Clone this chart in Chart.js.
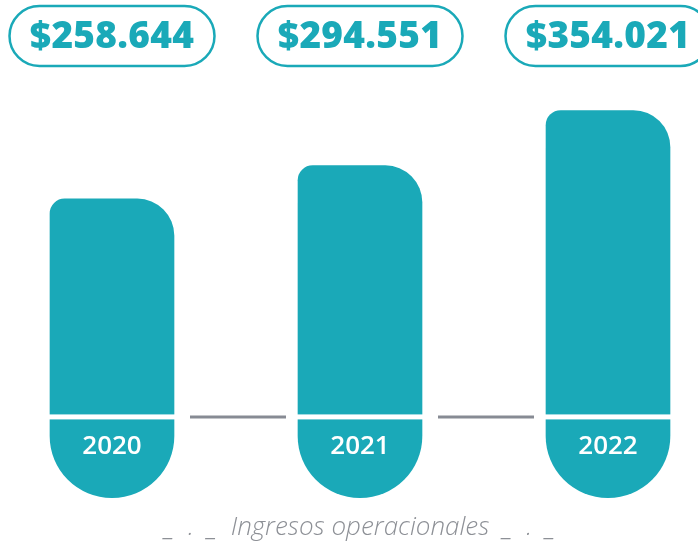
<!DOCTYPE html>
<html>
<head>
<meta charset="utf-8">
<script src="https://cdn.jsdelivr.net/npm/chart.js@4.4.1/dist/chart.umd.min.js"></script>
<style>
  html, body { margin: 0; padding: 0; background: #fff; }
  #wrap { width: 698px; height: 541px; }
</style>
</head>
<body>
<div id="wrap"><canvas id="chart"></canvas></div>
<script>
// Ingresos operacionales (millones)
const years = ['2020', '2021', '2022'];
const ingresos = [258.644, 294.551, 354.021];
const valueLabels = ['$258.644', '$294.551', '$354.021'];
const baseValue = 23.3;    // where the white base line cuts the bars
const footValue = -63.8;   // bottom of the rounded foot under each bar

const TEAL = '#1aa9b8';

// white cut + grey connectors + year labels + value pills
const decorPlugin = {
  id: 'decor',
  afterDatasetsDraw(chart) {
    const ctx = chart.ctx;
    const y = chart.scales.y;
    const bars = chart.getDatasetMeta(0).data;
    const yBase = y.getPixelForValue(baseValue);
    ctx.save();

    ctx.strokeStyle = '#878b94';
    ctx.lineWidth = 3;
    for (let i = 0; i < bars.length - 1; i++) {
      const from = bars[i].x + bars[i].width / 2 + 16;
      const to = bars[i + 1].x - bars[i + 1].width / 2 - 12;
      ctx.beginPath();
      ctx.moveTo(from, yBase);
      ctx.lineTo(to, yBase);
      ctx.stroke();
    }

    bars.forEach((bar, i) => {
      ctx.fillStyle = '#fff';
      ctx.fillRect(bar.x - bar.width / 2 - 1, yBase - 2.5, bar.width + 2, 5);

      ctx.font = '600 26px "Open Sans"';
      ctx.textAlign = 'center';
      ctx.textBaseline = 'middle';
      ctx.fillText(years[i], bar.x, yBase + 30);

      // pill with the value
      const w = 205, h = 60, top = 6;
      ctx.beginPath();
      ctx.roundRect(bar.x - w / 2, top, w, h, h / 2);
      ctx.lineWidth = 2.5;
      ctx.strokeStyle = TEAL;
      ctx.stroke();
      ctx.fillStyle = TEAL;
      ctx.font = '800 37px "Open Sans"';
      ctx.letterSpacing = '0.3px';
      ctx.fillText(valueLabels[i], bar.x, top + h / 2 + 1);
      ctx.letterSpacing = '0px';
    });
    ctx.restore();
  }
};

new Chart(document.getElementById('chart'), {
  type: 'bar',
  data: {
    labels: years,
    datasets: [{
      data: ingresos.map(v => [footValue, v]),
      backgroundColor: TEAL,
      barThickness: 124,
      borderSkipped: false,
      borderRadius: { topLeft: 15, topRight: 37, bottomLeft: 62, bottomRight: 62 },
      clip: false
    }]
  },
  options: {
    responsive: true,
    maintainAspectRatio: false,
    animation: false,
    layout: { padding: { top: 80, left: 112, right: 90, bottom: 0 } },
    scales: {
      x: { display: false, offset: false },
      y: { display: false, min: footValue, max: 387 }
    },
    plugins: {
      legend: { display: false },
      tooltip: { enabled: false },
      title: {
        display: true,
        position: 'bottom',
        fullSize: false,
        text: '_  .  _  Ingresos operacionales  _  .  _',
        color: '#8d9096',
        font: { family: 'Open Sans', size: 26, style: 'italic', weight: 300, lineHeight: 1 },
        padding: { top: 17.4, bottom: 0 }
      }
    }
  },
  plugins: [decorPlugin]
});
</script>
</body>
</html>
